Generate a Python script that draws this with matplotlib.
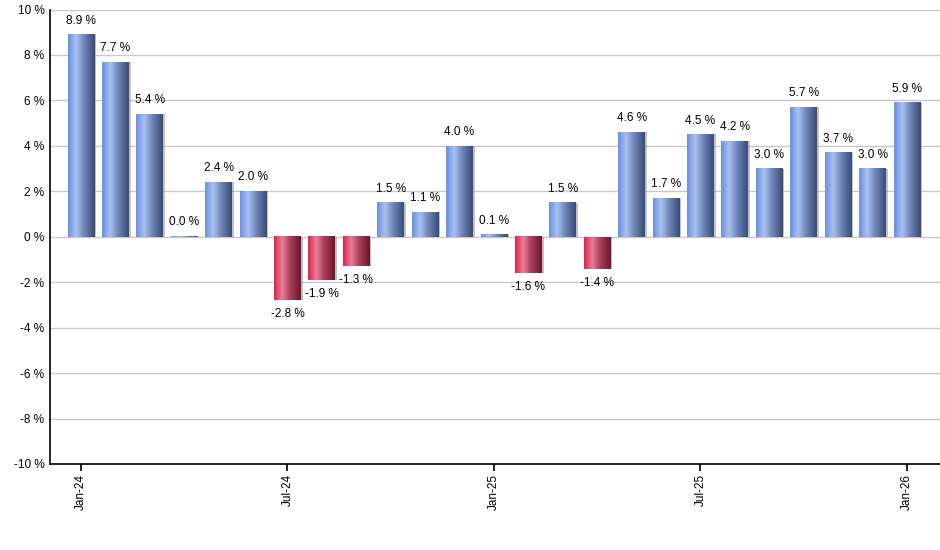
import numpy as np
import matplotlib
matplotlib.use("Agg")
import matplotlib.pyplot as plt
from matplotlib.colors import LinearSegmentedColormap
from matplotlib.patches import Rectangle

plt.rcParams['font.family'] = ['Liberation Sans', 'DejaVu Sans']

# monthly change, Jan-24 .. Jan-26
months = ['Jan-24', 'Feb-24', 'Mar-24', 'Apr-24', 'May-24', 'Jun-24', 'Jul-24', 'Aug-24',
          'Sep-24', 'Oct-24', 'Nov-24', 'Dec-24', 'Jan-25', 'Feb-25', 'Mar-25', 'Apr-25',
          'May-25', 'Jun-25', 'Jul-25', 'Aug-25', 'Sep-25', 'Oct-25', 'Nov-25', 'Dec-25',
          'Jan-26']
values = [8.9, 7.7, 5.4, 0.0, 2.4, 2.0, -2.8, -1.9, -1.3, 1.5, 1.1, 4.0, 0.1,
          -1.6, 1.5, -1.4, 4.6, 1.7, 4.5, 4.2, 3.0, 5.7, 3.7, 3.0, 5.9]
tick_labels = ['Jan-24', 'Jul-24', 'Jan-25', 'Jul-25', 'Jan-26']
y_ticks = list(range(-10, 11, 2))

blue_cmap = LinearSegmentedColormap.from_list(
    'blue_bar', [(0, '#6b90e2'), (0.3, '#a9c1f2'), (0.6, '#6f86b8'), (1, '#3a4c78')])
red_cmap = LinearSegmentedColormap.from_list(
    'red_bar', [(0, '#dc2450'), (0.3, '#ea7d95'), (0.6, '#a8425c'), (1, '#701528')])

fig = plt.figure(figsize=(9.4, 5.5), dpi=100)
ax = fig.add_axes([50 / 940, 86 / 550, 890 / 940, 454.5 / 550])

x = np.arange(len(values))
width = 0.78
grad = np.linspace(0, 1, 64).reshape(1, -1)

for xi, v in zip(x, values):
    left = xi - width / 2
    cmap = blue_cmap if v >= 0 else red_cmap
    lo, hi = min(0, v), max(0, v)
    if hi - lo < 0.04:
        hi = lo + 0.04
    # soft shadow on the right side
    ax.add_patch(Rectangle((left + 0.05, lo), width, hi - lo, color='#9a9a9a',
                           alpha=0.6, zorder=2, lw=0))
    ax.imshow(grad, cmap=cmap, extent=(left, left + width, lo, hi),
              aspect='auto', zorder=3, interpolation='bilinear')
    label = f"{v:.1f} %"
    if v >= 0:
        ax.text(xi, hi + 0.35, label, ha='center', va='bottom', fontsize=8.5, zorder=4)
    else:
        ax.text(xi, lo - 0.35, label, ha='center', va='top', fontsize=8.5, zorder=4)

ax.set_xlim(-0.9, 24.96)
ax.set_ylim(-10, 10)
ax.set_yticks(y_ticks)
ax.set_yticklabels([f"{t} %" for t in y_ticks], fontsize=8.5)
ax.set_xticks([months.index(m) for m in tick_labels])
ax.set_xticklabels(tick_labels, rotation=90, fontsize=8.5)

ax.grid(axis='y', color='#c8c8c8', linewidth=1, zorder=0)
ax.set_axisbelow(True)
for side in ['top', 'right']:
    ax.spines[side].set_visible(False)
ax.spines['left'].set_linewidth(1.2)
ax.spines['bottom'].set_linewidth(1.2)
ax.tick_params(axis='y', length=0, pad=4)
ax.tick_params(axis='x', length=5, width=1.2, pad=2)

fig.savefig('out.png', dpi=100)
